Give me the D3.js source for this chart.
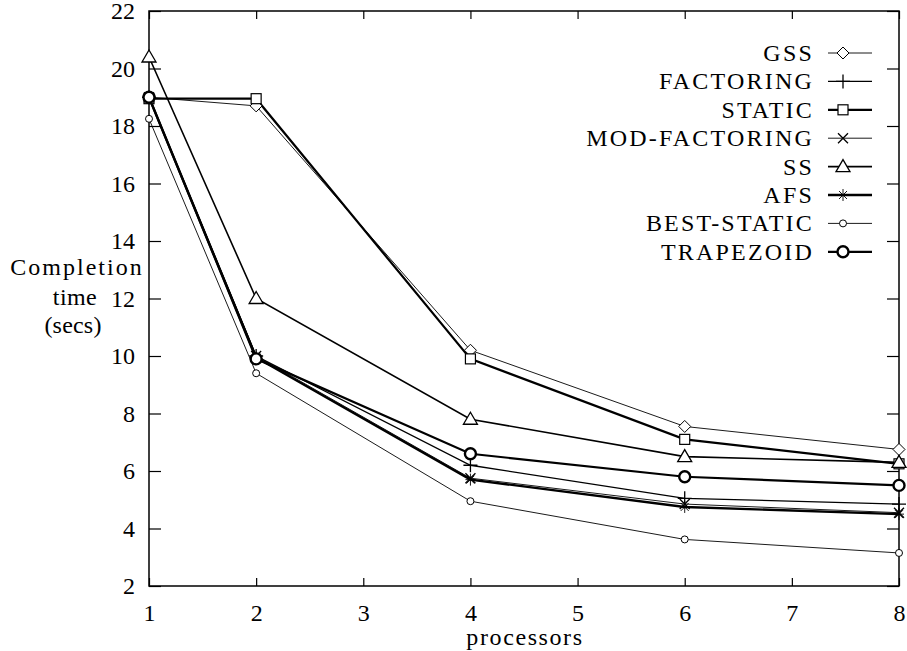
<!DOCTYPE html>
<html>
<head>
<meta charset="utf-8">
<script src="https://cdn.jsdelivr.net/npm/d3@7"></script>
<style>
  body { margin: 0; background: #fff; }
  svg text { font-family: "Liberation Serif", "Times New Roman", Times, "DejaVu Serif", serif; fill: #000; }
</style>
</head>
<body>
<script>
// processors on the x axis
var processors = [1, 2, 4, 6, 8];

var gss          = [19.0, 18.7, 10.2, 7.55, 6.75];
var factoring    = [19.0, 10.0, 6.2, 5.05, 4.85];
var staticS      = [18.95, 18.95, 9.9, 7.1, 6.25];
var modFactoring = [19.0, 10.0, 5.75, 4.85, 4.55];
var ss           = [20.4, 12.0, 7.8, 6.5, 6.3];
var afs          = [19.0, 9.95, 5.7, 4.75, 4.5];
var bestStatic   = [18.25, 9.4, 4.95, 3.62, 3.15];
var trapezoid    = [19.0, 9.9, 6.6, 5.8, 5.5];

var seriesNames = ["GSS", "FACTORING", "STATIC", "MOD-FACTORING", "SS", "AFS", "BEST-STATIC", "TRAPEZOID"];
var seriesValues = [gss, factoring, staticS, modFactoring, ss, afs, bestStatic, trapezoid];
var seriesMarks = ["diamond", "plus", "square", "cross", "triangle", "star", "smallcircle", "circle"];
var seriesWidths = [0.9, 1.3, 2.2, 0.9, 1.6, 2.4, 0.9, 2.2];

var xTicks = [1, 2, 3, 4, 5, 6, 7, 8];
var yTicks = [2, 4, 6, 8, 10, 12, 14, 16, 18, 20, 22];

var width = 907, height = 651;
var plot = { left: 149, right: 899, top: 11, bottom: 586 };

var svg = d3.select("body").append("svg")
    .attr("width", width)
    .attr("height", height);

var xScale = d3.scaleLinear().domain([1, 8]).range([plot.left, plot.right]);
var yScale = d3.scaleLinear().domain([2, 22]).range([plot.bottom, plot.top]);

// ticks on all four sides, pointing inward
svg.append("g")
    .attr("transform", "translate(0," + plot.bottom + ")")
    .call(d3.axisBottom(xScale).tickValues(xTicks).tickFormat(d3.format("d"))
        .tickSizeInner(-8).tickSizeOuter(0).tickPadding(18))
    .call(function(g) { g.select(".domain").remove(); });
svg.append("g")
    .attr("transform", "translate(0," + plot.top + ")")
    .call(d3.axisTop(xScale).tickValues(xTicks).tickSizeInner(-8).tickSizeOuter(0).tickFormat(""))
    .call(function(g) { g.select(".domain").remove(); });
svg.append("g")
    .attr("transform", "translate(" + plot.left + ",0)")
    .call(d3.axisLeft(yScale).tickValues(yTicks).tickSizeInner(-12).tickSizeOuter(0).tickPadding(14))
    .call(function(g) { g.select(".domain").remove(); });
svg.append("g")
    .attr("transform", "translate(" + plot.right + ",0)")
    .call(d3.axisRight(yScale).tickValues(yTicks).tickSizeInner(-12).tickSizeOuter(0).tickFormat(""))
    .call(function(g) { g.select(".domain").remove(); });

svg.selectAll(".tick line").attr("stroke", "#000").attr("stroke-width", 1.2);
svg.selectAll(".tick text")
    .attr("font-family", null)
    .attr("font-size", 24)
    .attr("fill", "#000");
svg.selectAll("g").attr("font-family", null);

svg.append("rect")
    .attr("x", plot.left).attr("y", plot.top)
    .attr("width", plot.right - plot.left).attr("height", plot.bottom - plot.top)
    .attr("fill", "none").attr("stroke", "#000").attr("stroke-width", 1.5);

// axis titles
svg.append("text")
    .attr("x", xScale(4.5) + 1).attr("y", 645)
    .attr("text-anchor", "middle")
    .attr("font-size", 24)
    .attr("letter-spacing", 1.6)
    .text("processors");

var ylab = svg.append("text").attr("font-size", 24).attr("text-anchor", "middle");
ylab.append("tspan").attr("x", 77).attr("y", 275).attr("letter-spacing", 2).text("Completion");
ylab.append("tspan").attr("x", 75).attr("y", 305).attr("letter-spacing", 0.4).text("time");
ylab.append("tspan").attr("x", 73).attr("y", 333).attr("letter-spacing", 0.2).text("(secs)");

function drawMark(g, kind, cx, cy) {
    if (kind == "diamond") {
        g.append("path").attr("d", "M" + cx + "," + (cy - 6) + "L" + (cx + 6) + "," + cy + "L" + cx + "," + (cy + 6) + "L" + (cx - 6) + "," + cy + "Z")
            .attr("fill", "#fff").attr("stroke", "#000").attr("stroke-width", 1);
    } else if (kind == "plus") {
        g.append("path").attr("d", "M" + (cx - 7) + "," + cy + "H" + (cx + 7) + "M" + cx + "," + (cy - 7) + "V" + (cy + 7))
            .attr("stroke", "#000").attr("stroke-width", 1.3);
    } else if (kind == "square") {
        g.append("rect").attr("x", cx - 5).attr("y", cy - 5).attr("width", 10).attr("height", 10)
            .attr("fill", "#fff").attr("stroke", "#000").attr("stroke-width", 1.2);
    } else if (kind == "cross") {
        g.append("path").attr("d", "M" + (cx - 5) + "," + (cy - 5) + "L" + (cx + 5) + "," + (cy + 5) + "M" + (cx - 5) + "," + (cy + 5) + "L" + (cx + 5) + "," + (cy - 5))
            .attr("stroke", "#000").attr("stroke-width", 1.3);
    } else if (kind == "triangle") {
        g.append("path").attr("d", "M" + cx + "," + (cy - 7) + "L" + (cx + 7) + "," + (cy + 5) + "L" + (cx - 7) + "," + (cy + 5) + "Z")
            .attr("fill", "#fff").attr("stroke", "#000").attr("stroke-width", 1.3);
    } else if (kind == "star") {
        g.append("path").attr("d", "M" + (cx - 5) + "," + cy + "H" + (cx + 5) + "M" + cx + "," + (cy - 6) + "V" + (cy + 6) +
            "M" + (cx - 4) + "," + (cy - 4) + "L" + (cx + 4) + "," + (cy + 4) + "M" + (cx - 4) + "," + (cy + 4) + "L" + (cx + 4) + "," + (cy - 4))
            .attr("stroke", "#000").attr("stroke-width", 0.9);
    } else if (kind == "smallcircle") {
        g.append("circle").attr("cx", cx).attr("cy", cy).attr("r", 3.5)
            .attr("fill", "#fff").attr("stroke", "#000").attr("stroke-width", 1);
    } else if (kind == "circle") {
        g.append("circle").attr("cx", cx).attr("cy", cy).attr("r", 5.5)
            .attr("fill", "#fff").attr("stroke", "#000").attr("stroke-width", 2.4);
    }
}

var line = d3.line()
    .x(function(d) { return xScale(d.x); })
    .y(function(d) { return yScale(d.y); });

seriesValues.forEach(function(vals, i) {
    var pts = vals.map(function(v, j) { return { x: processors[j], y: v }; });
    svg.append("path")
        .datum(pts)
        .attr("fill", "none")
        .attr("stroke", "#000")
        .attr("stroke-width", seriesWidths[i])
        .attr("d", line);
});
seriesValues.forEach(function(vals, i) {
    var g = svg.append("g");
    vals.forEach(function(v, j) {
        drawMark(g, seriesMarks[i], xScale(processors[j]), yScale(v));
    });
});

// legend
var legendTop = 53, legendStep = 28.4;
seriesNames.forEach(function(name, i) {
    var y = legendTop + i * legendStep;
    svg.append("text")
        .attr("x", 814).attr("y", y + 8)
        .attr("text-anchor", "end")
        .attr("font-size", 24)
        .attr("letter-spacing", 2.2)
        .text(name);
    svg.append("line")
        .attr("x1", 828).attr("x2", 872).attr("y1", y).attr("y2", y)
        .attr("stroke", "#000").attr("stroke-width", seriesWidths[i]);
    drawMark(svg.append("g"), seriesMarks[i], 843, y);
});
</script>
</body>
</html>
